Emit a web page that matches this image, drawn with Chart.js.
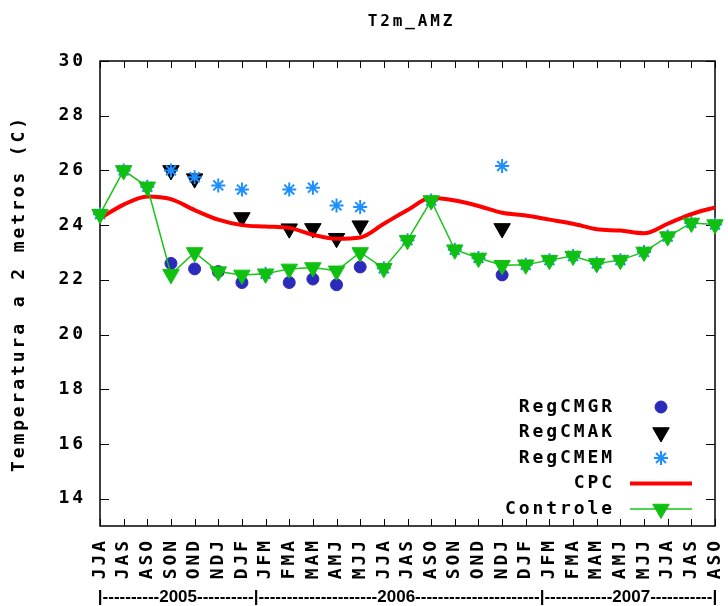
<!DOCTYPE html>
<html>
<head>
<meta charset="utf-8">
<title>T2m_AMZ</title>
<script src="https://cdn.jsdelivr.net/npm/chart.js@4.4.1/dist/chart.umd.min.js"></script>
<style>
  html, body { margin: 0; padding: 0; background: #fff; }
  #chart { display: block; }
</style>
</head>
<body>
<canvas id="chart" width="728" height="606"></canvas>
<script>
// three-month seasons, JJA 2005 .. ASO 2007
const seasons = [
  "JJA", "JAS", "ASO", "SON", "OND", "NDJ", "DJF", "JFM", "FMA", "MAM", "AMJ", "MJJ",
  "JJA", "JAS", "ASO", "SON", "OND", "NDJ", "DJF", "JFM", "FMA", "MAM", "AMJ", "MJJ",
  "JJA", "JAS", "ASO"
];

const yTicks = [14, 16, 18, 20, 22, 24, 26, 28, 30];

const regcmGR = [
  null, null, null, 22.6, 22.4, 22.3, 21.9, null, 21.9, 22.03, 21.82, 22.47,
  null, null, null, null, null, 22.18, null, null, null, null, null, null,
  null, null, null
];

const regcmAK = [
  null, null, null, 26.0, 25.7, null, 24.28, null, 23.87, 23.88, 23.52, 23.98,
  null, null, null, null, null, 23.88, null, null, null, null, null, null,
  null, null, null
];

const regcmEM = [
  24.4, 26.0, 25.4, 26.0, 25.75, 25.45, 25.3, 22.22, 25.3, 25.37, 24.72, 24.66,
  22.42, 23.45, 24.9, 23.1, 22.8, 26.16, 22.55, 22.72, 22.87, 22.6, 22.72, 23.02,
  23.58, 24.08, 24.02
];

const cpc = [
  24.25, 24.75, 25.05, 24.95, 24.55, 24.2, 24.0, 23.95, 23.9, 23.65, 23.5, 23.55,
  24.05, 24.55, 25.0, 24.9, 24.7, 24.45, 24.35, 24.2, 24.05, 23.85, 23.8, 23.7,
  24.05, 24.4, 24.65
];

const controle = [
  24.4, 26.0, 25.4, 22.2, 23.0, 22.3, 22.18, 22.22, 22.4, 22.45, 22.33, 23.0,
  22.42, 23.45, 24.9, 23.1, 22.8, 22.53, 22.55, 22.72, 22.87, 22.6, 22.72, 23.02,
  23.58, 24.08, 24.02
];

const chartTitle = "T2m_AMZ";

const yearBar = "|" + "-".repeat(10) + "2005" + "-".repeat(10) + "|" +
  "-".repeat(21) + "2006" + "-".repeat(22) + "|" +
  "-".repeat(12) + "2007" + "-".repeat(11) + "|";

const MONO = "DejaVu Sans Mono";
const labelFont = { family: MONO, size: 18, weight: "bold" };

// wide spacing to get the look of the old bitmap terminal font
const spacing = {
  id: "spacing",
  beforeUpdate(chart) { chart.ctx.letterSpacing = "2.9px"; },
  beforeDraw(chart) { chart.ctx.letterSpacing = "2.9px"; }
};

// closed border with inward ticks on all four sides
const frame = {
  id: "frame",
  beforeDatasetsDraw(chart) {
    const { ctx, chartArea: a, scales: { x, y } } = chart;
    ctx.save();
    ctx.strokeStyle = "#000";
    ctx.lineWidth = 1.5;
    ctx.strokeRect(a.left, a.top, a.right - a.left, a.bottom - a.top);
    ctx.lineWidth = 1;
    ctx.beginPath();
    seasons.forEach((s, i) => {
      const px = Math.round(x.getPixelForValue(i)) + 0.5;
      ctx.moveTo(px, a.bottom);
      ctx.lineTo(px, a.bottom - 7);
      ctx.moveTo(px, a.top);
      ctx.lineTo(px, a.top + 7);
    });
    yTicks.forEach(v => {
      const py = Math.round(y.getPixelForValue(v)) + 0.5;
      ctx.moveTo(a.left, py);
      ctx.lineTo(a.left + 9, py);
      ctx.moveTo(a.right, py);
      ctx.lineTo(a.right - 9, py);
    });
    ctx.stroke();
    ctx.restore();
  }
};

// key in the lower right corner: label first, then the sample
const keyBox = {
  id: "keyBox",
  afterDatasetsDraw(chart) {
    const { ctx, chartArea: a } = chart;
    const sets = chart.data.datasets;
    ctx.save();
    ctx.font = "bold 18px '" + MONO + "'";
    ctx.textAlign = "right";
    ctx.textBaseline = "middle";
    sets.forEach((ds, i) => {
      const rowY = a.bottom - 17 - (sets.length - 1 - i) * 25.5;
      const cx = a.right - 54;
      ctx.fillStyle = "#000";
      ctx.fillText(ds.label, a.right - 100, rowY);
      if (ds.showLine !== false) {
        ctx.strokeStyle = ds.borderColor;
        ctx.lineWidth = ds.borderWidth;
        ctx.beginPath();
        ctx.moveTo(a.right - 85, rowY);
        ctx.lineTo(a.right - 23, rowY);
        ctx.stroke();
      }
      if (ds.pointRadius > 0) {
        ctx.fillStyle = ds.pointBackgroundColor;
        ctx.strokeStyle = ds.pointBorderColor;
        ctx.lineWidth = ds.pointBorderWidth;
        Chart.helpers.drawPoint(ctx, {
          pointStyle: ds.pointStyle,
          rotation: ds.pointRotation || 0,
          radius: ds.pointRadius,
          borderWidth: ds.pointBorderWidth
        }, cx, rowY);
      }
    });
    ctx.restore();
  }
};

// title over the plot box and the period line under the season labels
const captions = {
  id: "captions",
  afterDraw(chart) {
    const { ctx, chartArea: a } = chart;
    const mid = (a.left + a.right) / 2;
    ctx.save();
    ctx.fillStyle = "#000";
    ctx.textAlign = "center";
    ctx.textBaseline = "middle";
    ctx.font = "bold 16px '" + MONO + "'";
    ctx.fillText(chartTitle, mid + 4, 22);
    ctx.letterSpacing = "0px";
    ctx.font = "bold 17px 'Liberation Sans'";
    ctx.fillText(yearBar, mid, 597);
    ctx.restore();
  }
};

const ctx = document.getElementById("chart");

new Chart(ctx, {
  type: "line",
  data: {
    labels: seasons,
    datasets: [
      {
        label: "RegCMGR",
        data: regcmGR,
        showLine: false,
        pointStyle: "circle",
        pointRadius: 6,
        pointBackgroundColor: "#2a2abb",
        pointBorderColor: "#2a2abb",
        pointBorderWidth: 1,
        clip: false,
        order: 5
      },
      {
        label: "RegCMAK",
        data: regcmAK,
        showLine: false,
        pointStyle: "triangle",
        pointRotation: 180,
        pointRadius: 9.5,
        pointBackgroundColor: "#000",
        pointBorderColor: "#000",
        pointBorderWidth: 1,
        clip: false,
        order: 4
      },
      {
        label: "RegCMEM",
        data: regcmEM,
        showLine: false,
        pointStyle: "star",
        pointRadius: 7,
        pointBackgroundColor: "#1e8fff",
        pointBorderColor: "#1e8fff",
        pointBorderWidth: 2,
        clip: false,
        order: 3
      },
      {
        label: "CPC",
        data: cpc,
        borderColor: "#ff0000",
        borderWidth: 4,
        pointRadius: 0,
        cubicInterpolationMode: "monotone",
        fill: false,
        clip: false,
        order: 2
      },
      {
        label: "Controle",
        data: controle,
        borderColor: "#16c416",
        borderWidth: 1.5,
        pointStyle: "triangle",
        pointRotation: 180,
        pointRadius: 9.5,
        pointBackgroundColor: "#10c010",
        pointBorderColor: "#10c010",
        pointBorderWidth: 1,
        fill: false,
        clip: false,
        order: 1
      }
    ]
  },
  options: {
    responsive: false,
    animation: false,
    events: [],
    layout: {
      padding: { left: 0, right: 13, top: 61, bottom: 0 }
    },
    plugins: {
      legend: { display: false },
      tooltip: { enabled: false },
      title: { display: false }
    },
    scales: {
      x: {
        type: "category",
        offset: false,
        grid: { display: false, drawTicks: false },
        border: { display: false },
        ticks: {
          color: "#000",
          font: labelFont,
          autoSkip: false,
          minRotation: 90,
          maxRotation: 90,
          padding: 12
        },
        afterFit(scale) {
          scale.height = 80;
          scale.paddingLeft = 0;
          scale.paddingRight = 0;
        }
      },
      y: {
        min: 13,
        max: 30,
        grid: { display: false, drawTicks: false },
        border: { display: false },
        ticks: {
          color: "#000",
          font: labelFont,
          padding: 14
        },
        afterBuildTicks(scale) {
          scale.ticks = yTicks.map(v => ({ value: v }));
        },
        title: {
          display: true,
          text: "Temperatura a 2 metros (C)",
          color: "#000",
          font: labelFont,
          padding: { top: 9, bottom: 0 }
        },
        afterFit(scale) {
          scale.width = 100;
          scale.paddingTop = 0;
          scale.paddingBottom = 0;
        }
      }
    }
  },
  plugins: [spacing, frame, keyBox, captions]
});
</script>
</body>
</html>
